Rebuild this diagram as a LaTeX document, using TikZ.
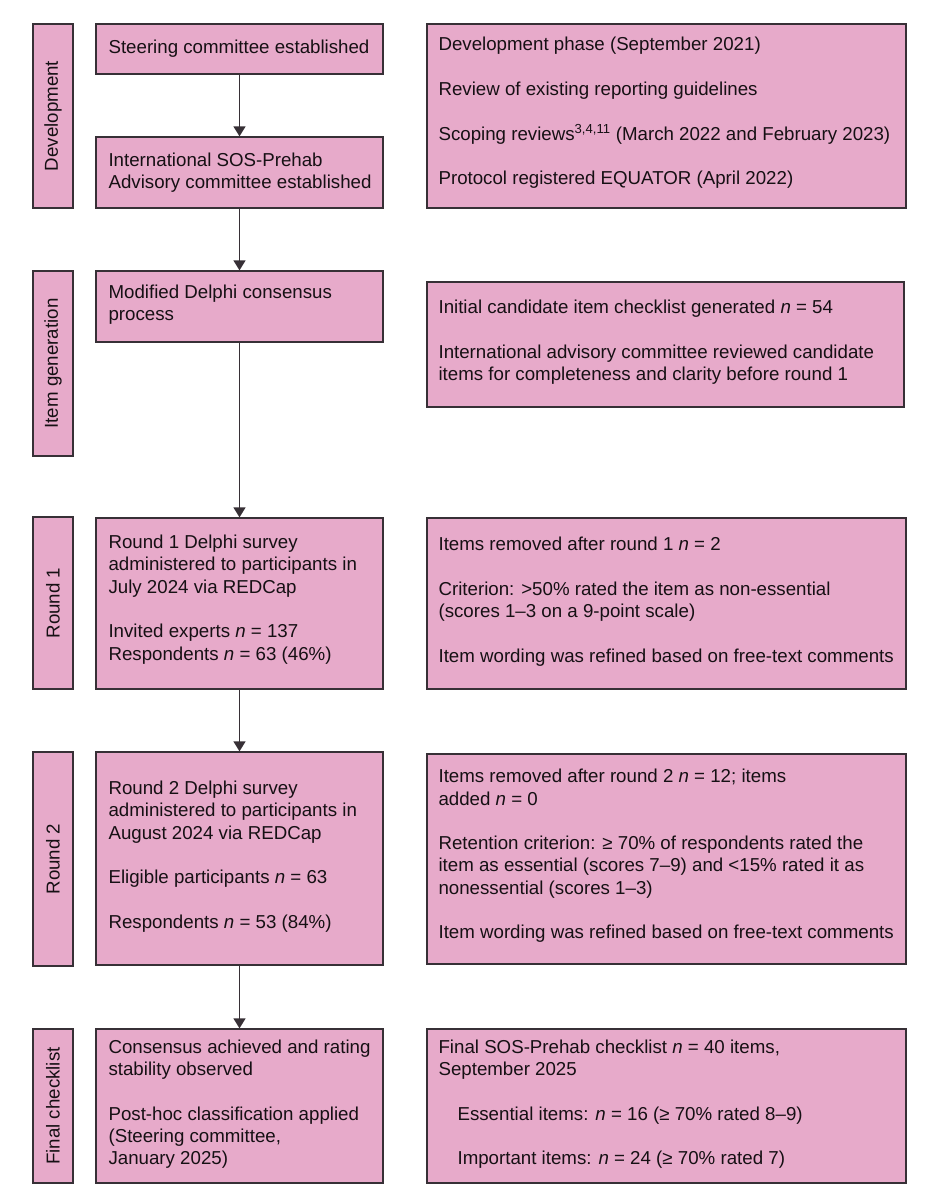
\documentclass[tikz,border=0pt]{standalone}
\usepackage{fontspec}
\setmainfont{Liberation Sans}
\usetikzlibrary{arrows.meta,calc}
\definecolor{boxpink}{RGB}{231,170,202}
\definecolor{edgegray}{RGB}{55,48,54}
\definecolor{ink}{RGB}{22,16,20}
\begin{document}
\begin{tikzpicture}[x=1pt,y=-1pt,
  box/.style={draw=edgegray, fill=boxpink, line width=1.3pt, inner sep=0pt},
  txt/.style={font=\fontsize{18.7}{22.3}\selectfont, text=ink, align=left, inner sep=0pt, anchor=west},
  lab/.style={font=\fontsize{18.7}{22.3}\selectfont, text=ink, rotate=90, inner sep=0pt},
  arr/.style={draw=edgegray, line width=1.5pt, -{Triangle[width=12pt,length=10pt]}}]
\useasboundingbox (0,0) rectangle (936,1200);

% ---- label column ----
\node[box, minimum width=40pt, minimum height=184pt] (ldev)  at (53,116)   {};
\node[box, minimum width=40pt, minimum height=185pt] (litem) at (53,363.5) {};
\node[box, minimum width=40pt, minimum height=172pt] (lr1)   at (53,603)   {};
\node[box, minimum width=40pt, minimum height=214pt] (lr2)   at (53,859)   {};
\node[box, minimum width=40pt, minimum height=154pt] (lfin)  at (53,1106)  {};
\node[lab] (ldevt)  at (ldev.center)  {Development};
\node[lab] (litemt) at (litem.center) {Item generation};
\node[lab] (lr1t)   at (lr1.center)   {Round 1};
\node[lab] (lr2t)   at (lr2.center)   {Round 2};
\node[lab] (lfint)  at (lfin.center)  {Final checklist};

% ---- middle column ----
\node[box, minimum width=287pt, minimum height=50pt]  (steer) at (239.5,49)    {};
\node[box, minimum width=287pt, minimum height=71pt]  (intl)  at (239.5,172.5) {};
\node[box, minimum width=287pt, minimum height=71pt]  (mod)   at (239.5,306.5) {};
\node[box, minimum width=287pt, minimum height=171pt] (r1)    at (239.5,603.5) {};
\node[box, minimum width=287pt, minimum height=213pt] (r2)    at (239.5,858.5) {};
\node[box, minimum width=287pt, minimum height=154pt] (fin)   at (239.5,1106)  {};

\node[txt] (steert) at ($(steer.west)+(13,0)$) {Steering committee established};
\node[txt] (intlt)  at ($(intl.west)+(13,0)$) {International SOS-Prehab\\Advisory committee established};
\node[txt, anchor=north west] (modt) at ($(mod.north west)+(13,14)$) {Modified Delphi consensus\\process};
\node[txt] (r1t) at ($(r1.west)+(13,-4)$) {Round 1 Delphi survey\\administered to participants in\\July 2024 via REDCap\\[22.3pt]Invited experts \textit{n} = 137\\Respondents \textit{n} = 63 (46\%)};
\node[txt] (r2t) at ($(r2.west)+(13,-2)$) {Round 2 Delphi survey\\administered to participants in\\August 2024 via REDCap\\[22.3pt]Eligible participants \textit{n} = 63\\[22.3pt]Respondents \textit{n} = 53 (84\%)};
\node[txt] (fint) at ($(fin.west)+(13,-2)$) {Consensus achieved and rating\\stability observed\\[22.3pt]Post-hoc classification applied\\(Steering committee,\\January 2025)};

% ---- right column ----
\node[box, minimum width=479pt, minimum height=184pt] (devR)  at (666.5,116)   {};
\node[box, minimum width=477pt, minimum height=125pt] (itemR) at (665.5,344.5) {};
\node[box, minimum width=479pt, minimum height=171pt] (r1R)   at (666.5,603.5) {};
\node[box, minimum width=479pt, minimum height=210pt] (r2R)   at (666.5,859)   {};
\node[box, minimum width=479pt, minimum height=154pt] (finR)  at (666.5,1106)  {};

\node[txt] (devRt) at ($(devR.west)+(12,-3)$) {Development phase (September 2021)\\[22.3pt]Review of existing reporting guidelines\\[22.3pt]Scoping reviews\textsuperscript{3,4,11} (March 2022 and February 2023)\\[22.3pt]Protocol registered EQUATOR (April 2022)};
\node[txt] (itemRt) at ($(itemR.west)+(12,-2)$) {Initial candidate item checklist generated \textit{n} = 54\\[22.3pt]International advisory committee reviewed candidate\\items for completeness and clarity before round 1};
\node[txt] (r1Rt) at ($(r1R.west)+(12,-2)$) {Items removed after round 1 \textit{n} = 2\\[22.3pt]Criterion: >50\% rated the item as non-essential\\(scores 1–3 on a 9-point scale)\\[22.3pt]Item wording was refined based on free-text comments};
\node[txt] (r2Rt) at ($(r2R.west)+(12,-3)$) {Items removed after round 2 \textit{n} = 12; items\\added \textit{n} = 0\\[22.3pt]Retention criterion: ≥ 70\% of respondents rated the\\item as essential (scores 7–9) and <15\% rated it as\\nonessential (scores 1–3)\\[22.3pt]Item wording was refined based on free-text comments};
\node[txt] (finRt) at ($(finR.west)+(12,-2)$) {Final SOS-Prehab checklist \textit{n} = 40 items,\\September 2025\\[22.3pt]\hspace*{19pt}Essential items: \textit{n} = 16 (≥ 70\% rated 8–9)\\[22.3pt]\hspace*{19pt}Important items: \textit{n} = 24 (≥ 70\% rated 7)};

% ---- connectors ----
\draw[arr] (steer.south) -- (intl.north);
\draw[arr] (intl.south) -- (mod.north);
\draw[arr] (mod.south) -- (r1.north);
\draw[arr] (r1.south) -- (r2.north);
\draw[arr] (r2.south) -- (fin.north);
\end{tikzpicture}
\end{document}
